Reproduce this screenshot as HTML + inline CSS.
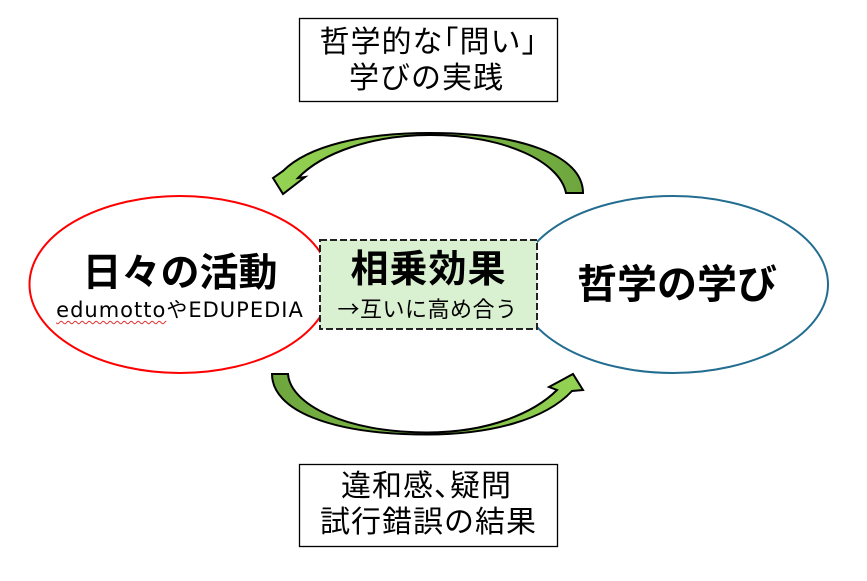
<!DOCTYPE html>
<html>
<head>
<meta charset="utf-8">
<style>
  html,body{margin:0;padding:0;background:#fff;}
  body{width:867px;height:581px;position:relative;overflow:hidden;
       font-family:"Liberation Sans","Noto Sans CJK JP",sans-serif;color:#000;}
  .t{position:absolute;white-space:nowrap;text-align:center;}
  .h{font-feature-settings:"halt";}
</style>
</head>
<body>
<svg width="867" height="581" viewBox="0 0 867 581" style="position:absolute;left:0;top:0">
  <defs>
    <linearGradient id="gTop" gradientUnits="userSpaceOnUse" x1="583" y1="160" x2="275" y2="180">
      <stop offset="0" stop-color="#6ea63e"/>
      <stop offset="0.5" stop-color="#7dbb45"/>
      <stop offset="1" stop-color="#94d352"/>
    </linearGradient>
    <linearGradient id="gBot" gradientUnits="userSpaceOnUse" x1="272" y1="400" x2="583" y2="380">
      <stop offset="0" stop-color="#6ea63e"/>
      <stop offset="0.5" stop-color="#7dbb45"/>
      <stop offset="1" stop-color="#94d352"/>
    </linearGradient>
  </defs>

  <!-- top / bottom boxes -->
  <rect x="299.5" y="18.5" width="258" height="83" fill="#fff" stroke="#000" stroke-width="1.3"/>
  <rect x="299.5" y="464.5" width="258" height="82" fill="#fff" stroke="#000" stroke-width="1.3"/>

  <!-- ellipses -->
  <ellipse cx="180" cy="284.5" rx="150.5" ry="88.5" fill="#fff" stroke="#ff0000" stroke-width="2"/>
  <ellipse cx="673" cy="284.5" rx="155" ry="88.5" fill="#fff" stroke="#236d91" stroke-width="2"/>

  <!-- center box -->
  <rect x="320" y="240" width="217" height="89" fill="#d9f1d1" stroke="#222" stroke-width="2" stroke-dasharray="7 3"/>

  <!-- top curved arrow -->
  <path d="M 583 193 C 583 155, 520 133, 430 133 C 362 133, 308 146, 283 171
           L 273 178 L 283 194 L 305 177 L 298 178
           C 322 153, 372 135, 430 135 C 505 135, 560 162, 566 193 Z"
        fill="url(#gTop)" stroke="#000" stroke-width="2" stroke-linejoin="miter"/>

  <!-- bottom curved arrow -->
  <path d="M 272 374 L 288 374 C 290 404, 345 432.5, 427 432.5 C 490 432.5, 535 412, 557 390
           L 549 387 L 573 374 L 583 390 L 572 391
           C 545 420, 490 434.5, 427 434.5 C 330 434.5, 272 410, 272 374 Z"
        fill="url(#gBot)" stroke="#000" stroke-width="2" stroke-linejoin="miter"/>
</svg>

<!-- top box text -->
<div class="t" style="left:299px;width:259px;top:28px;font-size:30px;line-height:30px;letter-spacing:1px;">哲学的な<span class="h">「</span>問い<span class="h">」</span></div>
<div class="t" style="left:297px;width:259px;top:64px;font-size:30px;line-height:30px;letter-spacing:1px;">学びの実践</div>

<!-- bottom box text -->
<div class="t" style="left:297px;width:259px;top:472px;font-size:30px;line-height:30px;letter-spacing:1px;">違和感<span class="h">、</span>疑問</div>
<div class="t" style="left:299px;width:259px;top:508px;font-size:30px;line-height:30px;letter-spacing:1px;">試行錯誤の結果</div>

<!-- left ellipse text -->
<div class="t" style="left:60px;width:240px;top:254px;font-size:39px;line-height:39px;font-weight:bold;">日々の活動</div>
<div class="t" style="left:40px;width:280px;top:300px;font-size:21px;line-height:21px;letter-spacing:1px;font-family:'DejaVu Sans','Noto Sans CJK JP',sans-serif;"><span style="text-decoration:underline wavy #e03030;text-decoration-thickness:1px;text-underline-offset:3px;">edumotto</span>やEDUPEDIA</div>

<!-- center box text -->
<div class="t" style="left:320px;width:217px;top:251px;font-size:38px;line-height:38px;font-weight:bold;letter-spacing:1px;">相乗効果</div>
<div class="t" style="left:320px;width:215px;top:297px;font-size:22px;line-height:22px;letter-spacing:0.5px;"><span style="font-family:'Noto Sans CJK JP',sans-serif;">→</span>互いに高め合う</div>

<!-- right ellipse text -->
<div class="t" style="left:557px;width:240px;top:265px;font-size:40px;line-height:40px;font-weight:bold;">哲学の学び</div>
</body>
</html>
